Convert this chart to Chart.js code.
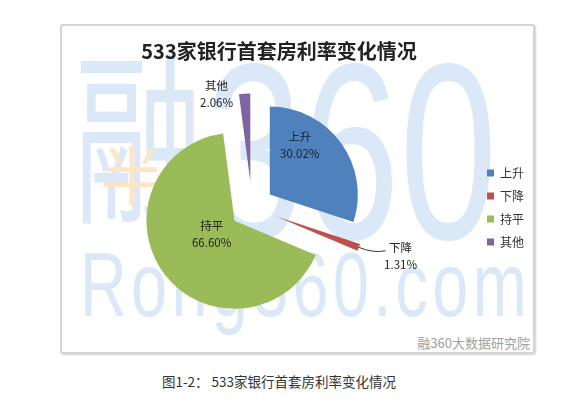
<!DOCTYPE html>
<html>
<head>
<meta charset="utf-8">
<script src="https://cdn.jsdelivr.net/npm/chart.js@4/dist/chart.umd.min.js"></script>
<style>
  html, body { margin: 0; padding: 0; background: #fff; }
  body { width: 578px; height: 398px; position: relative; overflow: hidden;
         font-family: 'Noto Sans CJK SC', 'Noto Sans', sans-serif; }
  #frame { position: absolute; left: 60px; top: 24px; width: 471px; height: 326px;
           border: 2px solid #d4d4d4; border-radius: 3px; background: #fff;
           box-shadow: 1px 1px 2px rgba(0,0,0,0.18); }
  .wm { position: absolute; color: #dae8f7; white-space: nowrap; line-height: 1; }
  #wmRong { left: 74px; top: 36px; font-size: 185px; transform: scaleX(0.7); transform-origin: left top; }
  #wm360 { left: 205px; top: 28px; font-family: 'Liberation Sans', sans-serif; font-size: 250px;
           transform: scaleX(0.7); transform-origin: left top; }
  #wmCom { left: 80px; top: 240px; font-family: 'Liberation Sans', sans-serif; font-size: 90px;
           letter-spacing: 6px; transform: scaleX(0.72); transform-origin: left top; }
  #wmYen { left: 100px; top: 140px; font-size: 64px; color: #fde6c8; }
  #brand { position: absolute; right: 48px; top: 333px; font-size: 13px; color: #a0a0a0; }
  #caption { position: absolute; left: 0; width: 558px; top: 371px; text-align: center;
             font-size: 13.5px; color: #333; }
  #chartBox { position: absolute; left: 0; top: 0; width: 578px; height: 398px; }
</style>
</head>
<body>
<div id="frame"></div>
<div class="wm" id="wmRong">融</div>
<div class="wm" id="wm360">360</div>
<div class="wm" id="wmCom">Rong360.com</div>
<div class="wm" id="wmYen">半</div>
<div id="brand">融360大数据研究院</div>
<div id="caption">图1-2： 533家银行首套房利率变化情况</div>
<div id="chartBox"><canvas id="pie" width="578" height="398"></canvas></div>
<script>
// data
const categories = ['上升', '下降', '持平', '其他'];
const shares = [30.02, 1.31, 66.60, 2.06];
const sliceColors = ['#4f81bd', '#c0504d', '#9bbb59', '#8064a2'];
const explodePx = [22, 26, 22, 26];
// label spot per slice: [direction in degrees from 12 o'clock, distance as share of radius]
const labelSpots = [[31, 0.66], [107.5, 1.48], [240, 0.30], [339, 1.07]];

const RADIUS = 88;
const FONT = "'Noto Sans CJK SC', 'Noto Sans', sans-serif";

// pull each slice out of the pie along its own middle angle
const explodeSlices = {
  id: 'explodeSlices',
  afterDatasetUpdate(chart, args) {
    args.meta.data.forEach((arc, i) => {
      const mid = (arc.startAngle + arc.endAngle) / 2;
      arc.x += Math.cos(mid) * explodePx[i];
      arc.y += Math.sin(mid) * explodePx[i];
    });
  }
};

const sliceLabels = {
  id: 'sliceLabels',
  afterDatasetsDraw(chart) {
    const ctx = chart.ctx;
    const meta = chart.getDatasetMeta(0);
    ctx.save();
    ctx.fillStyle = '#222';
    ctx.textAlign = 'center';
    ctx.textBaseline = 'middle';
    meta.data.forEach((arc, i) => {
      const mid = (arc.startAngle + arc.endAngle) / 2;
      const dir = labelSpots[i][0] * Math.PI / 180 - Math.PI / 2;
      const lx = arc.x + Math.cos(dir) * arc.outerRadius * labelSpots[i][1];
      const ly = arc.y + Math.sin(dir) * arc.outerRadius * labelSpots[i][1];
      if (labelSpots[i][1] > 1.3) {
        // leader line from the slice tip
        const tx = arc.x + Math.cos(mid) * arc.outerRadius;
        const ty = arc.y + Math.sin(mid) * arc.outerRadius;
        ctx.strokeStyle = '#333';
        ctx.lineWidth = 1;
        ctx.beginPath();
        ctx.moveTo(tx, ty);
        ctx.quadraticCurveTo(tx + 14, ty + 6, lx - 15, ly - 5);
        ctx.stroke();
      }
      ctx.font = '11.5px ' + FONT;
      ctx.fillText(categories[i], lx, ly - 8);
      ctx.fillText(shares[i].toFixed(2) + '%', lx, ly + 9);
    });
    ctx.restore();
  }
};

new Chart(document.getElementById('pie'), {
  type: 'pie',
  data: {
    labels: categories,
    datasets: [{
      data: shares,
      backgroundColor: sliceColors,
      borderWidth: 0,
      radius: RADIUS
    }]
  },
  options: {
    responsive: false,
    animation: false,
    layout: { padding: { left: 28, right: 48, top: 30, bottom: 55 } },
    plugins: {
      title: {
        display: true,
        text: '533家银行首套房利率变化情况',
        color: '#222',
        font: { family: FONT, size: 20, weight: 'bold', lineHeight: 1.2 },
        padding: { top: 9, bottom: 9 }
      },
      legend: {
        position: 'right',
        fullSize: false,
        maxWidth: 54,
        labels: {
          boxWidth: 7,
          boxHeight: 7,
          padding: 11,
          color: '#333',
          font: { family: FONT, size: 12 }
        }
      },
      tooltip: { enabled: false }
    }
  },
  plugins: [explodeSlices, sliceLabels]
});
</script>
</body>
</html>
